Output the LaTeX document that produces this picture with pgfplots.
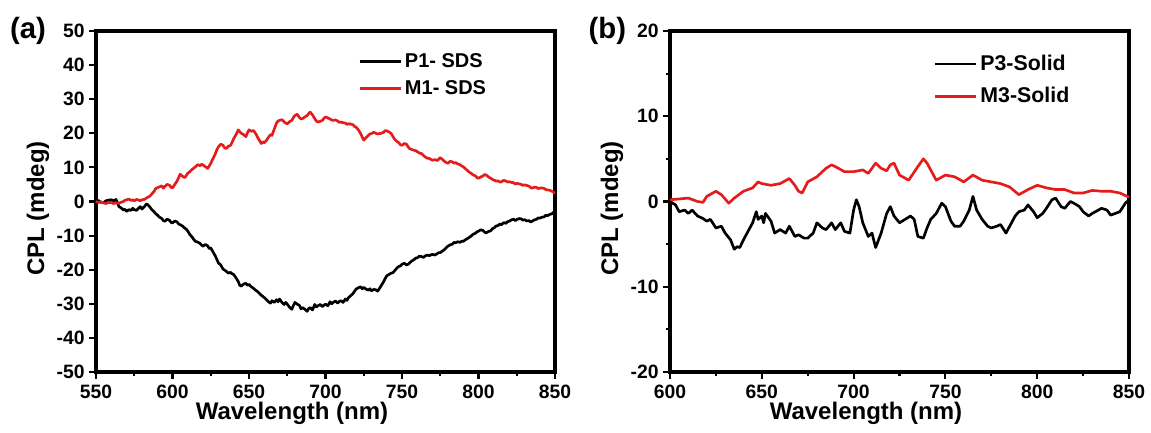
\documentclass[border=0pt]{standalone}
\usepackage{fontspec}
\setmainfont{Liberation Sans}
\usepackage{pgfplots}
\usepackage{pgfplotstable}
\pgfplotsset{compat=1.18}
\definecolor{cred}{RGB}{228,28,28}

\pgfplotstableread{
x y
550 0
551.5 0.3
553 -0.2
555 -0.3
556.5 0.2
558 0.4
560 0.5
561.5 0.2
563 0.6
564 -0.3
565 -1.5
566.5 -1.9
568 -2.5
569 -2.3
570 -2.9
571.5 -2.4
573 -2.6
574 -2.0
575 -2.4
576.5 -2.6
578 -1.9
579 -1.5
580 -2.2
581.5 -1.6
583 -0.7
584 -1.0
585 -1.5
586.5 -2.4
588 -3.0
589 -3.6
590 -3.9
591.5 -4.6
593 -5.0
594 -5.6
595 -5.8
596.5 -5.2
598 -5.5
599 -6.1
600 -6.3
601.5 -5.7
603 -6.0
604 -6.6
605 -6.8
606.5 -7.2
608 -7.8
609 -8.1
610 -8.7
611.5 -9.8
613 -10.5
614 -11.2
615 -11.7
616.5 -11.9
618 -12.3
619 -12.8
620 -13.1
621.5 -12.6
623 -13.0
624 -13.8
625 -13.6
626.5 -14.8
628 -16.0
629 -17.0
630 -18.0
631.5 -18.6
633 -19.8
634 -20.1
635 -20.4
636.5 -21.0
638 -20.8
639 -21.2
640 -21.4
641.5 -22.4
643 -23.5
644 -24.6
645 -24.8
646.5 -24.2
648 -24.0
649 -24.6
650 -24.3
651.5 -25.0
653 -25.5
654 -25.9
655 -26.2
656.5 -26.8
658 -27.5
659 -27.8
660 -28.2
661.5 -28.8
663 -29.5
664 -29.8
665 -29.1
666.5 -29.6
668 -28.8
669 -29.4
670 -28.6
671.5 -29.6
673 -30.2
674 -29.6
675 -30.1
676.5 -31.0
678 -31.6
679 -30.5
680 -29.6
681.5 -30.1
683 -30.5
684 -31.5
685 -31.1
686.5 -31.6
688 -32.2
689 -31.4
690 -31.1
691.5 -31.8
693 -30.2
694 -30.9
695 -30.6
696.5 -30.2
698 -30.8
699 -30.4
700 -30.1
701.5 -30.6
703 -29.4
704 -30.0
705 -29.6
706.5 -29.2
708 -29.8
709 -29.3
710 -29.1
711.5 -29.6
713 -28.6
714 -29.0
715 -28.2
716.5 -27.6
718 -27.0
719 -26.3
720 -25.7
721.5 -25.3
723 -25.0
724 -25.6
725 -25.2
726.5 -25.7
728 -26.0
729 -25.6
730 -26.2
731.5 -25.8
733 -25.9
734 -26.3
735 -25.7
736.5 -24.6
738 -23.5
739 -22.6
740 -21.8
741.5 -21.4
743 -21.0
744 -20.9
745 -20.4
746.5 -19.6
748 -19.0
749 -18.9
750 -18.4
751.5 -18.1
753 -18.6
754 -18.4
755 -18.0
756.5 -17.4
758 -17.0
759 -16.6
760 -16.5
761.5 -16.0
763 -16.2
764 -16.4
765 -16.0
766.5 -15.7
768 -15.9
769 -15.6
770 -15.5
771.5 -15.7
773 -15.3
774 -15.0
775 -15.0
776.5 -14.5
778 -14.0
779 -13.5
780 -13.1
781.5 -12.7
783 -12.5
784 -12.0
785 -12.1
786.5 -11.8
788 -12.0
789 -11.6
790 -11.7
791.5 -11.2
793 -10.8
794 -10.5
795 -10.2
796.5 -9.6
798 -9.3
799 -8.9
800 -8.7
801.5 -8.3
803 -8.5
804 -9.0
805 -9.2
806.5 -8.8
808 -8.6
809 -8.0
810 -7.8
811.5 -7.2
813 -7.0
814 -6.6
815 -6.8
816.5 -6.2
818 -6.4
819 -5.9
820 -5.8
821.5 -5.4
823 -5.2
824 -5.6
825 -5.3
826.5 -5.0
828 -5.1
829 -5.5
830 -5.3
831.5 -5.7
833 -5.6
834 -6.0
835 -5.8
836.5 -5.4
838 -5.2
839 -4.8
840 -4.9
841.5 -4.6
843 -4.5
844 -4.0
845 -4.2
846.5 -3.8
848 -3.6
849 -3.2
850 -2.9
}\Pone

\pgfplotstableread{
x y
550 0
551.5 -0.3
553 -0.1
555 -0.4
556.5 -0.6
558 -0.3
560 -0.3
561.5 -0.6
563 -0.4
565 -0.5
566.5 -0.2
568 0.0
569 0.4
570 0.5
571.5 0.7
573 0.3
574 0.5
575 0.2
576.5 0.6
578 0.4
579 0.2
580 0.5
581.5 0.6
583 1.0
584 1.3
585 1.5
586.5 2.2
588 3.0
589 3.8
590 4.0
591.5 4.3
593 4.6
594 3.9
595 4.4
596.5 5.0
598 4.8
599 4.2
600 4.0
601.5 5.0
603 6.0
604 7.0
605 8.0
606.5 7.4
608 7.0
609 7.6
610 8.3
611.5 8.8
613 9.5
614 9.8
615 10.2
616.5 10.8
618 10.5
619 10.9
620 10.7
621.5 10.2
623 9.7
624 10.4
625 11.2
626.5 12.6
628 14.0
629 15.2
630 16.0
631.5 16.8
633 16.5
634 15.8
635 15.5
636.5 16.2
638 16.5
639 17.4
640 18.4
641.5 19.6
643 21.0
644 20.4
645 20.0
646.5 19.6
648 19.0
649 20.2
650 21.0
651.5 20.6
653 20.8
654.5 19.8
656 18.5
657 17.8
658 17.0
659 17.5
660 17.2
661.5 18.0
663 19.0
664 19.6
665 19.4
666.5 21.2
668 23.0
669 23.6
670 23.8
671.5 24.0
673 23.3
674 23.0
675 22.8
676.5 23.4
678 23.8
679 24.6
680 25.2
681.5 25.6
683 24.6
684 24.2
685 24.3
686.5 24.8
688 25.2
689 25.8
690 26.2
691.5 25.4
693 24.3
694 23.6
695 23.3
696.5 23.5
698 23.8
699 24.4
700 24.8
701.5 24.5
703 24.2
704 23.9
705 23.8
706.5 23.9
708 23.6
709 23.2
710 23.3
711.5 23.1
713 23.0
714 22.6
715 22.8
716.5 22.7
718 22.5
719 22.0
720 21.8
721.5 21.0
723 19.9
724 18.9
725 18.0
726.5 18.7
728 19.4
729 19.8
730 19.9
731.5 20.3
733 20.0
734 19.8
735 19.9
736.5 20.0
738 20.3
739 20.8
740 20.7
741.5 20.4
743 19.9
744 19.1
745 18.4
746.5 17.7
748 17.2
749 16.6
750 16.5
751.5 17.0
753 16.8
754 16.0
755 15.5
756.5 15.2
758 15.0
759 14.9
760 14.6
761.5 14.2
763 14.0
764 13.5
765 13.1
766.5 12.7
768 12.6
769 12.3
770 12.1
771.5 12.3
773 12.0
774 12.4
775 12.9
776.5 12.3
778 11.7
779 11.4
780 11.2
781.5 11.8
783 11.6
784 11.2
785 11.4
786.5 11.0
788 10.8
789 10.4
790 10.2
791.5 9.6
793 9.0
794 8.6
795 8.3
796.5 7.8
798 7.5
799 7.0
800 6.8
801.5 7.2
803 7.5
804 7.9
805 7.8
806.5 7.2
808 6.8
809 6.5
810 6.3
811.5 6.0
813 6.0
814 5.7
815 5.8
816.5 6.2
818 6.0
819 5.7
820 5.8
821.5 5.6
823 5.5
824 5.1
825 5.3
826.5 5.2
828 5.0
829 4.7
830 4.9
831.5 4.7
833 4.5
834 4.1
835 3.9
836.5 4.2
838 4.1
839 3.8
840 3.9
841.5 4.0
843 3.8
844 3.5
845 3.4
846.5 3.3
848 3.0
849 2.7
850 2.4
}\Mone

\pgfplotstableread{
x y
600 0
603 -0.4
605 -1.2
608 -1.0
610 -1.4
612 -1.0
615 -1.7
618 -2.0
620 -2.3
622 -2.1
625 -3.1
628 -2.9
630 -3.7
633 -4.5
635 -5.6
636.5 -5.3
638 -5.4
640 -4.5
643 -3.3
645 -2.5
647 -1.2
648 -2.1
650 -1.7
651 -2.5
652 -1.4
655 -2.3
657 -3.7
660 -3.3
663 -3.7
665 -2.9
668 -4.1
670 -3.9
673 -4.3
675 -4.3
678 -3.7
680 -2.5
683 -3.1
685 -3.3
688 -2.5
690 -3.3
693 -2.5
695 -3.5
698 -3.7
700 -1.0
701.5 0.2
703 -0.6
705 -2.5
708 -4.1
710 -3.7
712 -5.4
715 -3.7
718 -1.4
720 -0.6
722 -1.7
725 -2.5
728 -2.1
731 -1.7
733 -2.1
735 -4.1
738 -4.3
740 -3.1
742 -2.1
745 -1.4
748 -0.2
750 -0.6
753 -2.3
755 -2.9
758 -2.9
760 -2.3
763 -1.0
765 0.6
767 -1.0
770 -2.1
773 -2.9
775 -3.1
778 -2.9
780 -2.7
783 -3.7
785 -2.9
788 -1.7
790 -1.2
793 -1.0
795 -0.4
798 -1.2
800 -1.9
803 -1.4
805 -0.8
808 0.2
810 0.4
813 -0.6
815 -0.8
818 0.0
820 -0.2
823 -0.6
825 -1.2
828 -1.7
830 -1.4
835 -0.8
838 -1.0
840 -1.6
845 -1.2
848 -0.2
850 0.2
}\Pthree

\pgfplotstableread{
x y
600 0.2
605 0.3
610 0.4
615 0.0
618 -0.1
620 0.6
625 1.2
628 0.8
632 -0.2
635 0.4
640 1.2
645 1.6
648 2.3
650 2.1
655 1.9
660 2.1
665 2.7
668 1.9
670 1.2
672 1.0
675 2.3
680 2.9
685 3.9
688 4.3
690 4.1
695 3.5
700 3.5
705 3.7
708 3.3
712 4.5
715 3.9
718 3.6
720 4.3
722 4.5
725 3.1
730 2.5
735 4.1
738 5.0
740 4.5
745 2.5
750 3.1
755 2.9
760 2.3
765 3.1
770 2.5
775 2.3
780 2.1
785 1.7
790 0.8
795 1.4
800 1.9
805 1.6
810 1.4
815 1.4
820 1.0
825 1.0
830 1.3
835 1.2
840 1.2
845 1.0
850 0.5
}\Mthree

\pgfplotsset{
 myax/.style={
  scale only axis, width=344.25pt, height=255.75pt,
  axis line style={line width=2.4pt},
  tick pos=left, tick align=outside,
  major tick length=5pt, minor tick length=3pt,
  every tick/.style={black, line width=1.6pt},
  /pgf/number format/assume math mode=true,
  tick label style={font=\bfseries\fontsize{14.5}{14.5}\selectfont},
  xticklabel style={inner sep=0pt, yshift=-4.5pt},
  label style={font=\bfseries\fontsize{18}{18}\selectfont, inner sep=0pt},
  xlabel={Wavelength (nm)},
  ylabel={CPL (mdeg)},
  xlabel style={at={(axis description cs:0.427,0)}, anchor=center, yshift=-31pt},
  ylabel style={at={([xshift=-43.5pt]axis description cs:0,0.48)}, anchor=center},
  legend style={draw=none, fill=none, font=\bfseries\fontsize{15}{15}\selectfont, anchor=north east, row sep=4pt},
  legend cell align=left,
  legend image code/.code={\draw[#1] (0pt,0pt) -- (31pt,0pt);},
  clip=false,
  every axis plot/.append style={line width=2pt, line join=round},
 }
}

\begin{document}
\begin{tikzpicture}
\path[use as bounding box] (-72pt,-45pt) rectangle (791.25pt,279pt);
\begin{axis}[myax, at={(0pt,0pt)}, anchor=south west,
  xmin=550, xmax=850, ymin=-50, ymax=50,
  xtick distance=50, ytick distance=10,
  minor x tick num=1,
  legend style={at={(axis description cs:0.865,0.95)}}]
\addplot[black] table[x=x,y=y]{\Pone};
\addlegendentry{P1- SDS}
\addplot[cred] table[x=x,y=y]{\Mone};
\addlegendentry{M1- SDS}
\node[font=\bfseries\fontsize{22}{22}\selectfont, xshift=-51pt] at (axis description cs:0,1) {(a)};
\end{axis}
\begin{axis}[myax, at={(430.5pt,0pt)}, anchor=south west,
  xmin=600, xmax=850, ymin=-20, ymax=20,
  xtick distance=50, ytick={-20,-10,0,10,20},
  minor x tick num=1, minor y tick num=1,
  legend style={at={(axis description cs:0.885,0.945)}, row sep=7pt, font=\bfseries\fontsize{16}{16}\selectfont}]
\addplot[black] table[x=x,y=y]{\Pthree};
\addlegendentry{P3-Solid}
\addplot[cred] table[x=x,y=y]{\Mthree};
\addlegendentry{M3-Solid}
\node[font=\bfseries\fontsize{22}{22}\selectfont, xshift=-47pt] at (axis description cs:0,1) {(b)};
\end{axis}
\end{tikzpicture}
\end{document}
